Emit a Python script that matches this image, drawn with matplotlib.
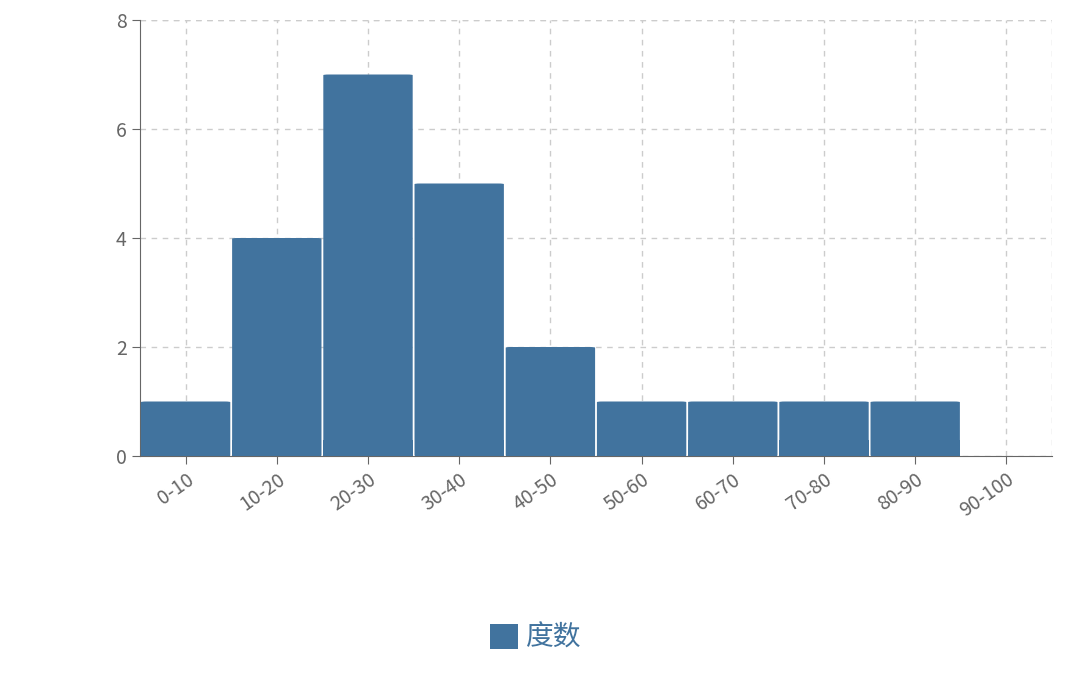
import matplotlib.pyplot as plt
from matplotlib.patches import FancyBboxPatch, Patch

plt.rcParams["font.family"] = ["Noto Sans CJK SC", "DejaVu Sans"]

categories = ["0-10", "10-20", "20-30", "30-40", "40-50", "50-60", "60-70", "70-80", "80-90", "90-100"]
counts = [1, 4, 7, 5, 2, 1, 1, 1, 1, 0]

bar_color = "#41739e"
text_color = "#666666"

fig = plt.figure(figsize=(10.72, 6.84), dpi=100)
ax = fig.add_axes([140 / 1072, 1 - 456 / 684, 912 / 1072, 436 / 684])

x = range(len(categories))
for i, v in zip(x, counts):
    if v <= 0:
        continue
    ax.add_patch(FancyBboxPatch((i - 0.49, 0), 0.98, v,
                                boxstyle="round,pad=0,rounding_size=0.06",
                                mutation_aspect=0.2,
                                facecolor=bar_color, edgecolor="none", zorder=3))
    # square off the bottom corners
    ax.bar(i, min(v, 0.3), width=0.98, bottom=0, color=bar_color, zorder=3)

ax.set_xlim(-0.5, len(categories) - 0.5)
ax.set_ylim(0, 8)
ax.set_yticks([0, 2, 4, 6, 8])
ax.set_xticks(list(x))
ax.set_xticklabels(categories, rotation=35, ha="right", rotation_mode="anchor")
ax.tick_params(colors=text_color, labelsize=14, length=6, color=text_color)

ax.grid(True, linestyle=(0, (4, 4)), color="#cccccc", linewidth=1, zorder=0)
ax.axvline(len(categories) - 0.5, linestyle=(0, (4, 4)), color="#cccccc", linewidth=1, zorder=0)
ax.axhline(8, linestyle=(0, (4, 4)), color="#cccccc", linewidth=1, zorder=0)
for s in ["top", "right"]:
    ax.spines[s].set_visible(False)
for s in ["left", "bottom"]:
    ax.spines[s].set_color(text_color)

fig.legend(handles=[Patch(facecolor=bar_color, label="度数")],
           loc="center", bbox_to_anchor=(0.5, 1 - 638 / 684), frameon=False,
           fontsize=20, handlelength=1.0, handleheight=1.0, handletextpad=0.3,
           labelcolor=bar_color)

fig.savefig("out.png", dpi=100)
